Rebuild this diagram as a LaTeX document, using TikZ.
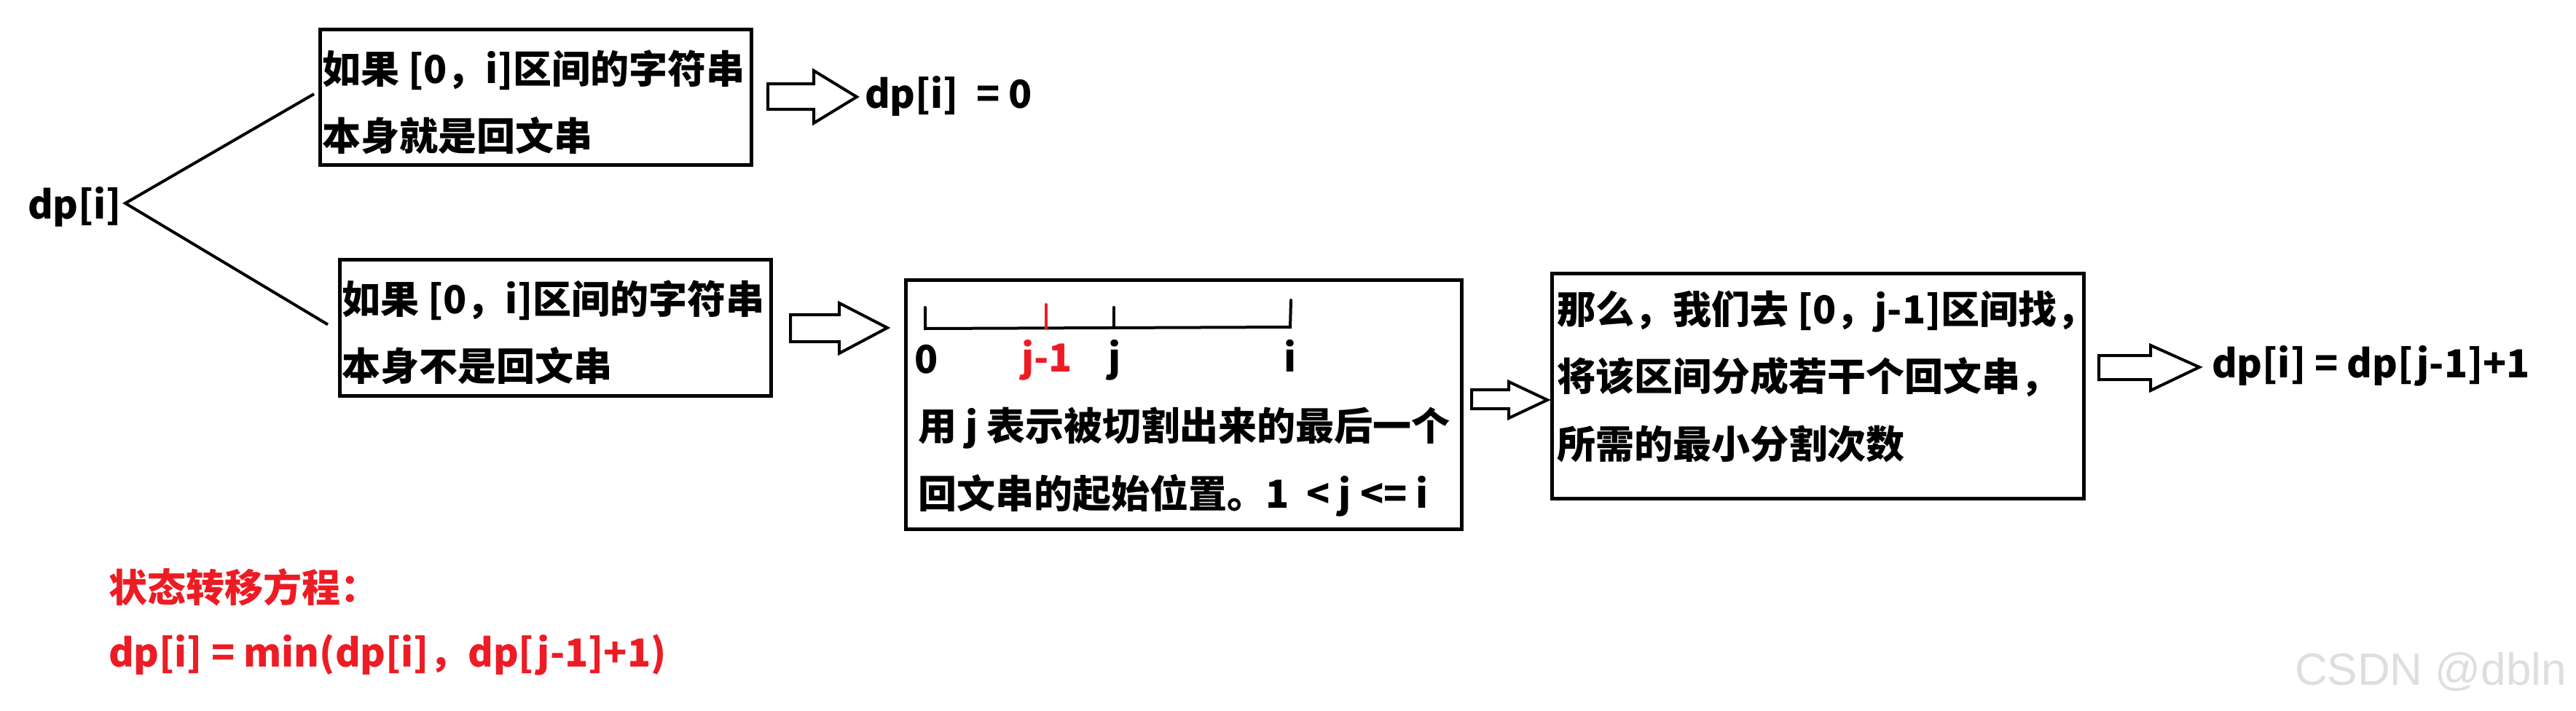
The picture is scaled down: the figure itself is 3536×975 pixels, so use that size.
\documentclass[tikz,border=0pt]{standalone}
\usepackage{fontspec}
\setmainfont{Noto Sans CJK SC}
\newfontfamily\wmfont{Liberation Sans}
\definecolor{myred}{RGB}{237,28,36}
\definecolor{wmgray}{RGB}{222,222,222}
\begin{document}
\begin{tikzpicture}[x=0.5pt,y=-0.5pt,
  every node/.style={font=\bfseries\fontsize{26.5}{30}\selectfont, inner sep=0pt, outer sep=0pt},
  txt/.style={anchor=base west},
  lbl/.style={anchor=base},
  box/.style={draw, line width=2.5pt, inner sep=0pt},
  barrow/.style={draw, line width=2pt, line join=miter, fill=white},
  conn/.style={line width=2pt},
  tickline/.style={line width=2pt, line cap=round}]
\useasboundingbox (0,0) rectangle (3536,975);
% root
\node[txt] (dpi) at (38,300) {dp[i]};
\coordinate (v) at (172,279);
% boxes
\node[box, minimum width=296pt, minimum height=93pt] (b1) at (735,133) {};
\node[box, minimum width=296pt, minimum height=93.5pt] (b2) at (762,449.5) {};
\node[box, minimum width=381.5pt, minimum height=171pt] (b3) at (1624.5,555) {};
\node[box, minimum width=365pt, minimum height=154.5pt] (b4) at (2495,529.5) {};
% connectors from dp[i]
\draw[conn] ([xshift=-4pt,yshift=2pt]b1.west) -- (v) -- ([xshift=-8pt,yshift=2pt]b2.west);
% box 1 text
\node[txt] (t11) at (442,114) {如果 [0，i]区间的字符串};
\node[txt] (t12) at (442,206) {本身就是回文串};
% box 2 text
\node[txt] (t21) at (469,430) {如果 [0，i]区间的字符串};
\node[txt] (t22) at (469,522) {本身不是回文串};
% result 1
\draw[barrow] (1054,115) -- (1117,115) -- (1117,97) -- (1176,133) -- (1117,169) -- (1117,150) -- (1054,150) -- cycle;
\node[txt] (r1) at (1187,148) {dp[i]\ \ = 0};
% arrow 2
\draw[barrow] (1085,432) -- (1152,432) -- (1152,416) -- (1218,450) -- (1152,485) -- (1152,469) -- (1085,469) -- cycle;
% number line in box 3
\coordinate (n0) at (1270,451);
\coordinate (nj1) at (1436,451);
\coordinate (nj) at (1529,450);
\coordinate (ni) at (1771,449);
\draw[tickline] (1270,422) -- (n0) -- (ni) -- (1772,412);
\draw[tickline, myred] (1436,418) -- (nj1);
\draw[tickline] (1529,422) -- (nj);
\node[lbl] (l0) at (1272,512) {0};
\node[lbl, text=myred] (lj1) at (1437,510) {j-1};
\node[lbl] (lj) at (1530,510) {j};
\node[lbl] (li) at (1771,510) {i};
\node[txt] (t31) at (1260,604) {用 j 表示被切割出来的最后一个};
\node[txt] (t32) at (1260,697) {回文串的起始位置。1\ \ < j <= i};
% arrow 3
\draw[barrow] (2020,535) -- (2071,535) -- (2071,524) -- (2124,549) -- (2071,574) -- (2071,561) -- (2020,561) -- cycle;
% box 4 text
\node[txt] (t41) at (2137,444) {那么，我们去 [0，j-1]区间找，};
\node[txt] (t42) at (2137,536) {将该区间分成若干个回文串，};
\node[txt] (t43) at (2137,629) {所需的最小分割次数};
% arrow 4
\draw[barrow] (2881,488) -- (2952,488) -- (2952,474) -- (3019,504) -- (2952,536) -- (2952,521) -- (2881,521) -- cycle;
\node[txt] (r2) at (3036,518) {dp[i] = dp[j-1]+1};
% red formula
\node[txt, text=myred] (f1) at (149,826) {状态转移方程：};
\node[txt, text=myred] (f2) at (149,915) {dp[i] = min(dp[i]，dp[j-1]+1)};
% watermark
\node[txt, font=\wmfont\fontsize{31}{36}\selectfont, text=wmgray] (wm) at (3150,940) {CSDN @dbln};
\end{tikzpicture}
\end{document}
